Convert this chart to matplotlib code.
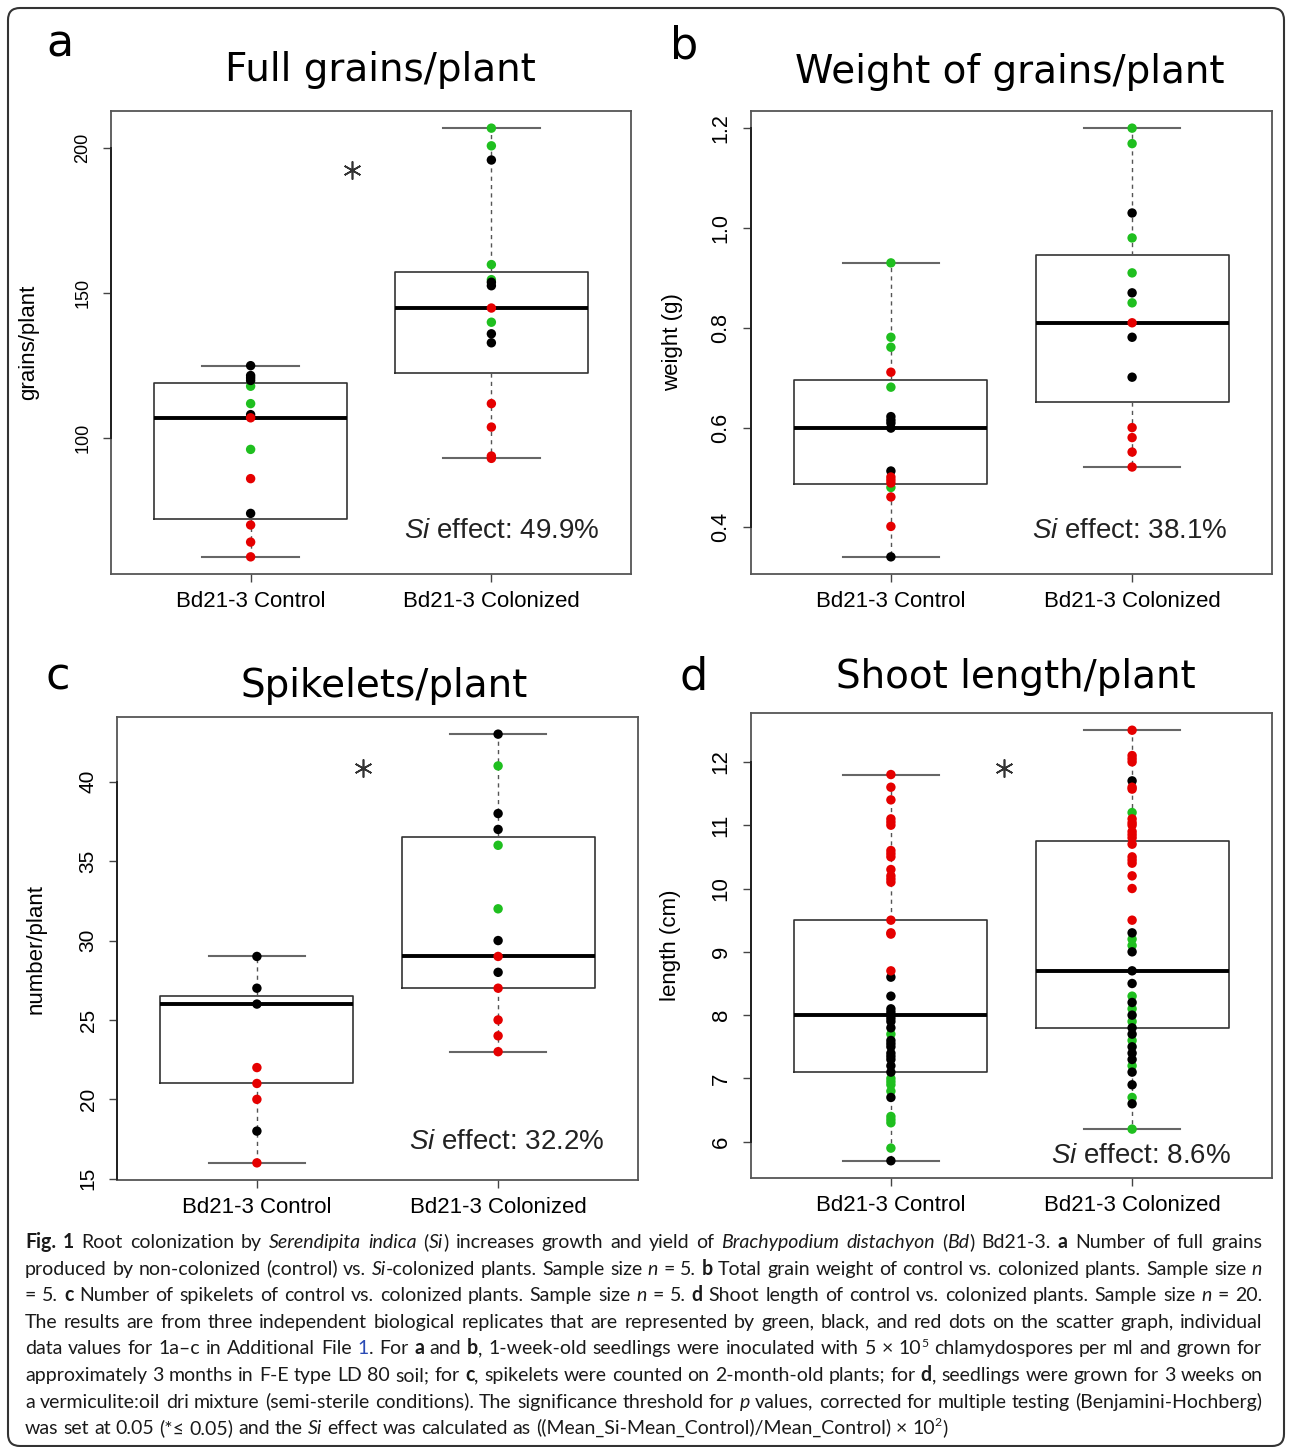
import matplotlib
matplotlib.use('Agg')
import matplotlib.pyplot as plt
from matplotlib import transforms
from matplotlib.patches import FancyBboxPatch

W, H = 1292, 1447

GREEN = '#1fbf1f'
BLACK = '#000000'
RED = '#e50000'

groups = ['Bd21-3 Control', 'Bd21-3 Colonized']

# a : full grains / plant
grains_ctrl_green = [117.8, 111.8, 96.0]
grains_ctrl_black = [124.9, 121.5, 120.7, 119.8, 108.0, 73.9]
grains_ctrl_red = [106.9, 85.9, 69.9, 64.0, 58.9]
grains_col_green = [206.9, 200.8, 159.8, 154.6, 139.9]
grains_col_black = [195.9, 153.7, 152.5, 135.9, 132.8]
grains_col_red = [144.8, 111.8, 103.7, 93.7, 92.9]
# whisker low, Q1, median, Q3, whisker high
grains_box_ctrl = [58.9, 72.1, 106.9, 118.9, 124.9]
grains_box_col = [92.9, 122.4, 144.8, 157.2, 206.9]

# b : weight of grains / plant
weight_ctrl_green = [0.93, 0.781, 0.761, 0.681, 0.48]
weight_ctrl_black = [0.622, 0.615, 0.609, 0.599, 0.513, 0.341]
weight_ctrl_red = [0.711, 0.501, 0.495, 0.489, 0.461, 0.402]
weight_col_green = [1.2, 1.169, 0.98, 0.91, 0.85]
weight_col_black = [1.03, 0.87, 0.781, 0.701]
weight_col_red = [0.81, 0.60, 0.58, 0.551, 0.521]
weight_box_ctrl = [0.341, 0.487, 0.60, 0.696, 0.93]
weight_box_col = [0.521, 0.651, 0.81, 0.945, 1.2]

# c : spikelets / plant
spike_ctrl_green = []
spike_ctrl_black = [29, 27, 26, 18]
spike_ctrl_red = [22, 21, 20, 16]
spike_col_green = [41, 36, 32]
spike_col_black = [43, 38, 37, 30, 28]
spike_col_red = [29, 27, 25, 24, 23]
spike_box_ctrl = [16, 21, 26, 26.5, 29]
spike_box_col = [23, 27, 29, 36.5, 43]

# d : shoot length / plant
shoot_ctrl_green = [7.7, 7.0, 6.95, 6.9, 6.8, 6.4, 6.35, 6.3, 5.9]
shoot_ctrl_black = [8.6, 8.3, 8.1, 8.05, 8.0, 7.95, 7.9, 7.8, 7.6, 7.55, 7.5,
                    7.4, 7.35, 7.3, 7.2, 7.1, 6.7, 5.7]
shoot_ctrl_red = [11.8, 11.6, 11.4, 11.1, 11.05, 11.0, 10.6, 10.55, 10.5, 10.3,
                  10.2, 10.15, 10.1, 9.5, 9.3, 9.28, 8.7]
shoot_col_green = [11.2, 9.2, 9.1, 8.3, 8.1, 7.9, 7.6, 7.2, 6.7, 6.2]
shoot_col_black = [11.7, 9.3, 9.0, 8.7, 8.5, 8.2, 8.0, 7.8, 7.7, 7.5, 7.4,
                   7.3, 7.1, 6.9, 6.6]
shoot_col_red = [12.5, 12.1, 12.05, 12.0, 11.6, 11.57, 11.1, 11.04, 11.0, 10.9,
                 10.85, 10.8, 10.7, 10.5, 10.45, 10.4, 10.2, 10.0, 9.5]
shoot_box_ctrl = [5.7, 7.1, 8.0, 9.5, 11.8]
shoot_box_col = [6.2, 7.8, 8.7, 10.75, 12.5]

titles = ['Full grains/plant', 'Weight of grains/plant', 'Spikelets/plant', 'Shoot length/plant']
letters = ['a', 'b', 'c', 'd']
ylabels = ['grains/plant', 'weight (g)', 'number/plant', 'length (cm)']
effects = ['49.9%', '38.1%', '32.2%', '8.6%']
yticks = [[100, 150, 200], [0.4, 0.6, 0.8, 1.0, 1.2],
          [15, 20, 25, 30, 35, 40], [6, 7, 8, 9, 10, 11, 12]]
# significance stars (x, y) in data units, None when not significant
stars = [(1.42, 192.5), None, (1.44, 40.85), (1.47, 11.9)]

panels = [
    ([(grains_ctrl_green, grains_ctrl_black, grains_ctrl_red),
      (grains_col_green, grains_col_black, grains_col_red)],
     [grains_box_ctrl, grains_box_col]),
    ([(weight_ctrl_green, weight_ctrl_black, weight_ctrl_red),
      (weight_col_green, weight_col_black, weight_col_red)],
     [weight_box_ctrl, weight_box_col]),
    ([(spike_ctrl_green, spike_ctrl_black, spike_ctrl_red),
      (spike_col_green, spike_col_black, spike_col_red)],
     [spike_box_ctrl, spike_box_col]),
    ([(shoot_ctrl_green, shoot_ctrl_black, shoot_ctrl_red),
      (shoot_col_green, shoot_col_black, shoot_col_red)],
     [shoot_box_ctrl, shoot_box_col]),
]

plt.rcParams['font.family'] = 'Liberation Sans'
plt.rcParams['mathtext.fontset'] = 'custom'
plt.rcParams['mathtext.rm'] = 'Liberation Sans'
plt.rcParams['mathtext.it'] = 'Liberation Sans:italic'

fig = plt.figure(figsize=(W / 100, H / 100), dpi=100)


def px_rect(left, top, right, bottom):
    return [left / W, 1 - bottom / H, (right - left) / W, (bottom - top) / H]


# axes boxes in pixels: left, top, right, bottom
ax_px = [(111, 111, 631, 574), (751, 111, 1272, 574),
         (117, 717, 638, 1180), (751, 713, 1272, 1178)]
letter_px = [(60, 44), (684, 46), (58, 677), (694, 677)]
title_px = [(380, 70), (1010, 72), (384, 686), (1016, 677)]
tick_sizes = [13, 15.5, 15, 16]
ylabel_x = [-0.138, -0.13, -0.136, -0.134]
effect_pos = [(0.94, 0.093), (0.914, 0.093), (0.935, 0.082), (0.921, 0.047)]

for i, (dots, boxes) in enumerate(panels):
    ax = fig.add_axes(px_rect(*ax_px[i]))
    stats = [dict(whislo=b[0], q1=b[1], med=b[2], q3=b[3], whishi=b[4], fliers=[])
             for b in boxes]
    ax.bxp(stats, positions=[1, 2], widths=0.8, capwidths=0.4, showfliers=False,
           boxprops=dict(color='#333333', lw=1.2),
           medianprops=dict(color='black', lw=2.8),
           whiskerprops=dict(color='#555555', lw=1.0, ls=(0, (3, 3))),
           capprops=dict(color='#666666', lw=1.5))
    for pos, (g, k, r) in zip([1, 2], dots):
        for vals, col in [(g, GREEN), (k, BLACK), (r, RED)]:
            if vals:
                ax.scatter([pos] * len(vals), vals, s=46, color=col,
                           edgecolors='none', zorder=3)

    lo = min(b[0] for b in boxes)
    hi = max(b[4] for b in boxes)
    pad = 0.04 * (hi - lo)
    ax.set_ylim(lo - pad, hi + pad)
    ax.set_xlim(0.42, 2.58)

    ax.set_xticks([1, 2], groups)
    ax.set_yticks(yticks[i])
    ax.set_yticklabels([f'{t:g}' if i != 1 else f'{t:.1f}' for t in yticks[i]],
                       rotation=90, va='center')
    ax.tick_params(axis='x', length=6, width=1, color='#444444', labelsize=16, pad=6)
    ax.tick_params(axis='y', length=6, width=1, color='#444444',
                   labelsize=tick_sizes[i], pad=8)
    for sp in ax.spines.values():
        sp.set_color('#555555')
        sp.set_linewidth(1.3)
    # R style axis line between first and last tick
    tr = transforms.blended_transform_factory(ax.transAxes, ax.transData)
    ax.plot([0, 0], [yticks[i][0], yticks[i][-1]], transform=tr, color='#222222',
            lw=1.4, clip_on=False, zorder=5)

    ax.set_ylabel(ylabels[i], fontsize=16)
    ax.yaxis.set_label_coords(ylabel_x[i], 0.5)

    ex, ey = effect_pos[i]
    ax.text(ex, ey, r'$\mathit{Si}$ effect: ' + effects[i], transform=ax.transAxes,
            ha='right', va='center', fontsize=20, color='#222222')
    if stars[i] is not None:
        ax.plot(*stars[i], marker=(6, 2, 0), markersize=13, color='#333333',
                mew=1.2, zorder=4)

    lx, ly = letter_px[i]
    fig.text(lx / W, 1 - ly / H, letters[i], family='DejaVu Sans', fontsize=32,
             ha='center', va='center')
    tx, ty = title_px[i]
    fig.text(tx / W, 1 - ty / H, titles[i], family='DejaVu Sans', fontsize=28,
             ha='center', va='center')

# caption
CAP_FONT = ['Lato', 'DejaVu Sans']
LINK = '#2b4bb5'
caption = [
    [('Fig. 1', 'b'), (' Root colonization by ', 'n'), ('Serendipita indica', 'i'), (' (', 'n'),
     ('Si', 'i'), (') increases growth and yield of ', 'n'), ('Brachypodium distachyon', 'i'),
     (' (', 'n'), ('Bd', 'i'), (') Bd21-3. ', 'n'), ('a', 'b'), (' Number of full grains', 'n')],
    [('produced by non-colonized (control) vs. ', 'n'), ('Si', 'i'),
     ('-colonized plants. Sample size ', 'n'), ('n', 'i'), (' = 5. ', 'n'), ('b', 'b'),
     (' Total grain weight of control vs. colonized plants. Sample size ', 'n'), ('n', 'i')],
    [('= 5. ', 'n'), ('c', 'b'), (' Number of spikelets of control vs. colonized plants. Sample size ', 'n'),
     ('n', 'i'), (' = 5. ', 'n'), ('d', 'b'),
     (' Shoot length of control vs. colonized plants. Sample size ', 'n'), ('n', 'i'), (' = 20.', 'n')],
    [('The results are from three independent biological replicates that are represented by green, '
      'black, and red dots on the scatter graph, individual', 'n')],
    [('data values for 1a\u2013c in Additional File ', 'n'), ('1', 'l'), ('. For ', 'n'), ('a', 'b'),
     (' and ', 'n'), ('b', 'b'), (', 1-week-old seedlings were inoculated with 5 \u00d7 10', 'n'),
     ('5', 's'), (' chlamydospores per ml and grown for', 'n')],
    [('approximately 3 months in F-E type LD 80 soil; for ', 'n'), ('c', 'b'),
     (', spikelets were counted on 2-month-old plants; for ', 'n'), ('d', 'b'),
     (', seedlings were grown for 3 weeks on', 'n')],
    [('a vermiculite:oil dri mixture (semi-sterile conditions). The significance threshold for ', 'n'),
     ('p', 'i'), (' values, corrected for multiple testing (Benjamini-Hochberg)', 'n')],
    [('was set at 0.05 (*\u2264 0.05) and the ', 'n'), ('Si', 'i'),
     (' effect was calculated as ((Mean_Si-Mean_Control)/Mean_Control) \u00d7 10', 'n'),
     ('2', 's'), (')', 'n')],
]

renderer = fig.canvas.get_renderer()


def style_kw(style, size):
    kw = dict(family=CAP_FONT, fontsize=size, color='#1a1a1a')
    if style == 'b':
        kw['weight'] = 'bold'
    elif style == 'i':
        kw['style'] = 'italic'
    elif style == 'l':
        kw['color'] = LINK
    elif style == 's':
        kw['fontsize'] = size * 0.62
    return kw


def measure(txt, kw):
    t = fig.text(0, 0, '|' + txt + '|', **kw)
    t0 = fig.text(0, 0, '||', **kw)
    w = t.get_window_extent(renderer).width - t0.get_window_extent(renderer).width
    t.remove()
    t0.remove()
    return w


def tokens(line):
    # split a line into words, keeping where spaces fall
    out = []
    for txt, style in line:
        parts = txt.split(' ')
        for j, p in enumerate(parts):
            gap = j > 0
            if p == '':
                if gap:
                    out.append(('', style, True))
                continue
            out.append((p, style, gap))
    merged = []
    pending = False
    for p, style, gap in out:
        if p == '':
            pending = True
            continue
        merged.append((p, style, gap or pending))
        pending = False
    return merged


def natural_width(line, size):
    tk = tokens(line)
    sw = measure(' ', style_kw('n', size))
    w = sum(measure(p, style_kw(s, size)) for p, s, g in tk)
    return w + sw * sum(1 for p, s, g in tk[1:] if g)


CAP_LEFT, CAP_RIGHT = 25, 1262
cap_size = 14
widest = max(natural_width(line, cap_size) for line in caption)
cap_size *= (CAP_RIGHT - CAP_LEFT) / widest
space_w = measure(' ', style_kw('n', cap_size))

for li, line in enumerate(caption):
    tk = tokens(line)
    ws = [measure(p, style_kw(s, cap_size)) for p, s, g in tk]
    ngap = sum(1 for p, s, g in tk[1:] if g)
    natural = sum(ws) + space_w * ngap
    gap_w = space_w
    if li < len(caption) - 1 and ngap:
        gap_w = space_w + (CAP_RIGHT - CAP_LEFT - natural) / ngap
    x = CAP_LEFT
    y = 1248 + 26.6 * li
    for j, ((p, s, g), w) in enumerate(zip(tk, ws)):
        if j > 0 and g:
            x += gap_w
        yy = y - (cap_size * 0.55 if s == 's' else 0)
        fig.text(x / W, 1 - yy / H, p, ha='left', va='baseline', **style_kw(s, cap_size))
        x += w

# rounded frame around the whole figure
frame = FancyBboxPatch((8, 1), 1276, 1438, boxstyle='round,pad=0,rounding_size=12',
                       transform=transforms.IdentityTransform(), fill=False,
                       edgecolor='#333333', lw=1.5)
fig.add_artist(frame)

fig.savefig('out.png', dpi=100)
